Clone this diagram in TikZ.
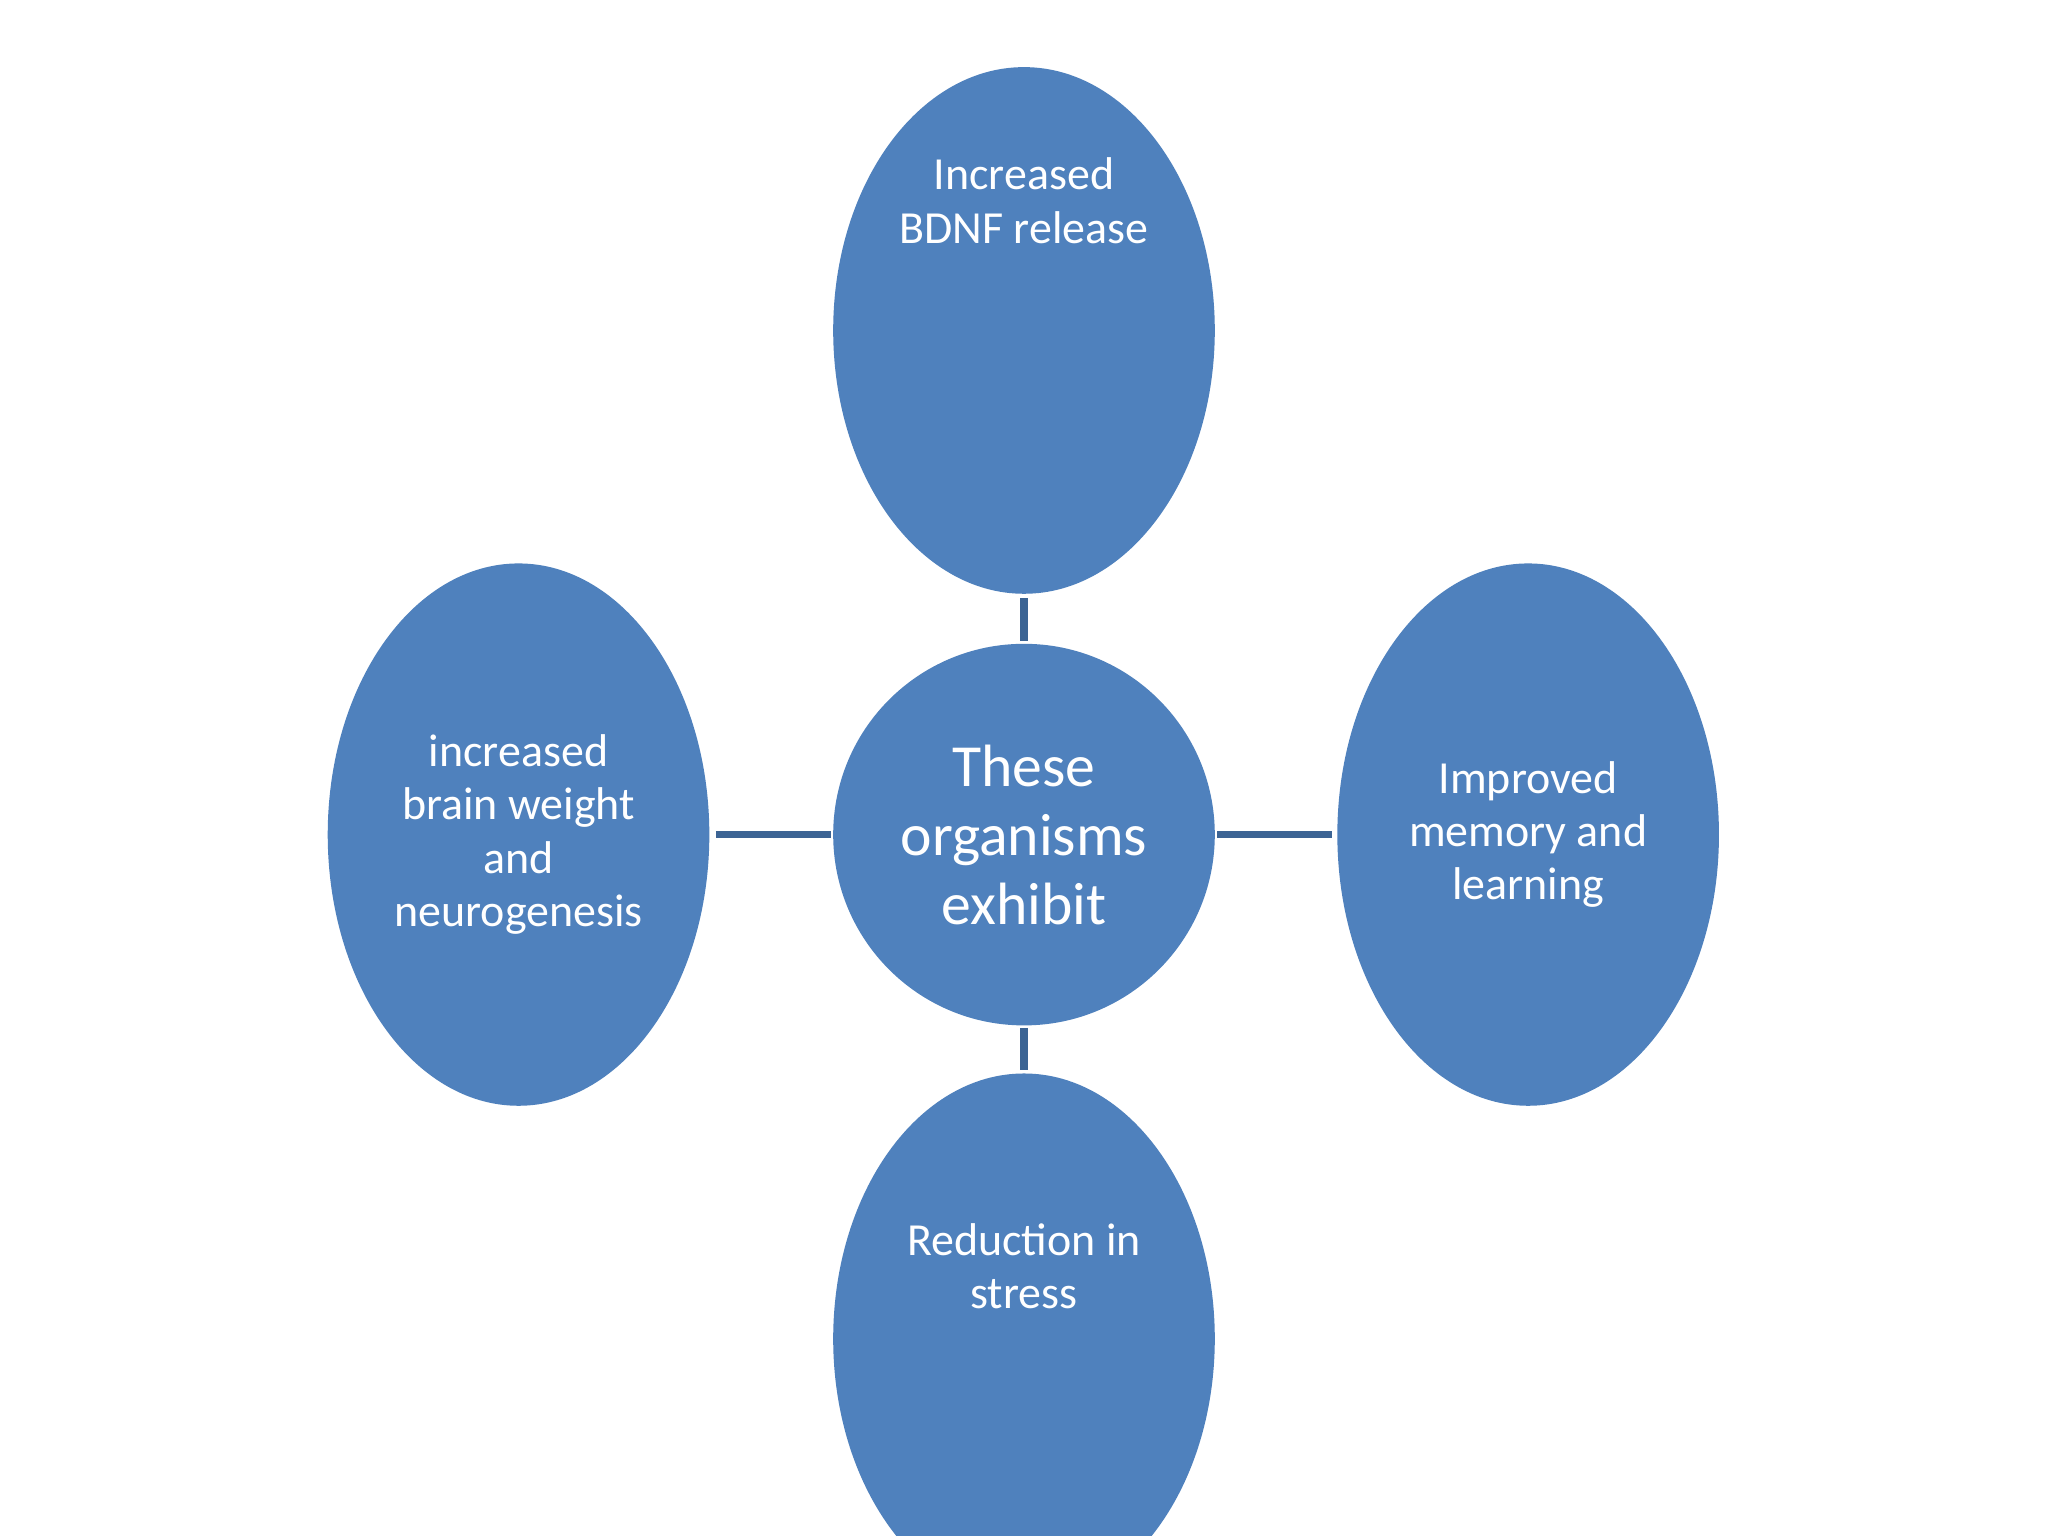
\documentclass[tikz,border=0pt]{standalone}
\usepackage{fontspec}
\setmainfont{Carlito}
\usetikzlibrary{shapes.geometric}
\definecolor{fillb}{HTML}{4F81BD}
\definecolor{lineb}{HTML}{3C6494}
\begin{document}
\begin{tikzpicture}[x=0.01cm,y=-0.01cm,
  bub/.style={ellipse,fill=fillb,draw=none,inner sep=0pt,text=white,align=center,font=\fontsize{10}{11.6}\selectfont},
  conn/.style={draw=lineb,line width=1.6pt}]
\useasboundingbox (0,0) rectangle (1568,1176);
\fill[white] (0,0) rectangle (1568,1176);
\begin{scope}
\clip (0,0) rectangle (1568,1176);
\node[bub,minimum width=2.92cm,minimum height=4.03cm] (top) at (784,253) {Increased\\BDNF release\\[4.5em]};
\node[bub,minimum width=2.92cm,minimum height=4.15cm] (left) at (397,639) {increased\\brain weight\\and\\neurogenesis};
\node[bub,minimum width=2.92cm,minimum height=4.15cm] (right) at (1170,639) {Improved\\memory and\\learning};
\node[bub,minimum width=2.92cm,minimum height=4.06cm] (bot) at (784,1025) {Reduction in\\stress\\[2em]};
\node[bub,minimum width=2.92cm,minimum height=2.92cm,font=\fontsize{13}{15}\selectfont] (c) at (784,639) {These\\organisms\\exhibit};
\end{scope}
\coordinate (t1) at (784,458); \coordinate (t2) at (784,491);
\coordinate (b1) at (784,787); \coordinate (b2) at (784,819);
\coordinate (l1) at (548,639); \coordinate (l2) at (636,639);
\coordinate (r1) at (932,639); \coordinate (r2) at (1020,639);
\draw[conn] (t1) -- (t2);
\draw[conn] (b1) -- (b2);
\draw[conn] (l1) -- (l2);
\draw[conn] (r1) -- (r2);
\end{tikzpicture}
\end{document}
